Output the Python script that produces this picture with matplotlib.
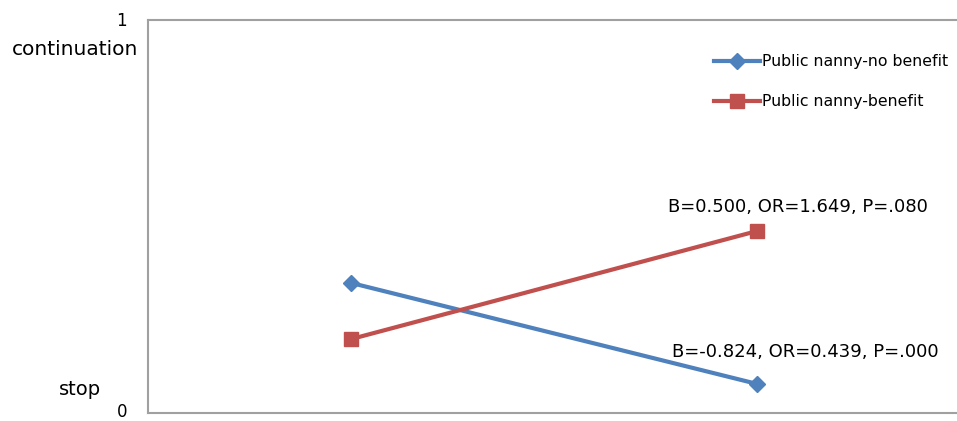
import matplotlib.pyplot as plt

# Дані графіка
categories = [1, 2]
no_benefit = [0.331, 0.074]
benefit = [0.188, 0.463]
series_names = ['Public nanny-no benefit', 'Public nanny-benefit']
note_benefit = 'B=0.500, OR=1.649, P=.080'
note_no_benefit = 'B=-0.824, OR=0.439, P=.000'

plt.rcParams['font.family'] = ['DejaVu Sans']

fig = plt.figure(figsize=(9.57, 4.21), dpi=100)
ax = fig.add_axes([148 / 957, 1 - 413 / 421, (956 - 148) / 957, (413 - 20) / 421])

blue = '#4F81BD'
red = '#C0504D'
ax.plot(categories, no_benefit, color=blue, lw=3, marker='D', ms=8,
        label=series_names[0])
ax.plot(categories, benefit, color=red, lw=3, marker='s', ms=10,
        label=series_names[1])

ax.set_xlim(0.5, 2.49)
ax.set_ylim(0, 1)
ax.set_xticks([])
ax.set_yticks([])
for side in ['left', 'bottom', 'top']:
    ax.spines[side].set_color('#a0a0a0')
    ax.spines[side].set_linewidth(1.5)
ax.spines['right'].set_visible(False)

# Позначки осі Y та підписи станів
ytr = ax.get_yaxis_transform()
ax.text(-0.026, 0.997, '1', transform=ytr, ha='right', va='center', fontsize=12)
ax.text(-0.026, 0.003, '0', transform=ytr, ha='right', va='center', fontsize=12)
ax.text(-0.012, 0.924, 'continuation', transform=ytr,
        ha='right', va='center', fontsize=14.5)
ax.text(-0.058, 0.061, 'stop', transform=ytr,
        ha='right', va='center', fontsize=14)

# Анотації
ax.text(categories[1] - 0.22, benefit[1] + 0.06, note_benefit,
        ha='left', va='center', fontsize=13)
ax.text(categories[1] - 0.21, no_benefit[1] + 0.082, note_no_benefit,
        ha='left', va='center', fontsize=13)

ax.legend(loc='upper left', bbox_to_anchor=(700 / 957, 1 - 40 / 421),
          bbox_transform=fig.transFigure, frameon=False, fontsize=11.3,
          handlelength=2.9, handletextpad=0.15, labelspacing=1.6)

plt.savefig('out.png', dpi=100)
